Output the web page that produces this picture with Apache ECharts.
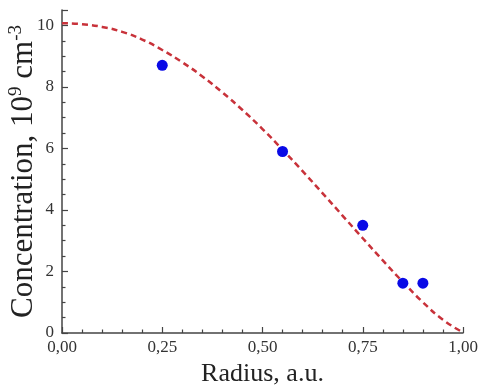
<!DOCTYPE html>
<html><head><meta charset="utf-8">
<script src="https://cdn.jsdelivr.net/npm/echarts@6/dist/echarts.min.js"></script>
<style>html,body{margin:0;padding:0;background:#fff}#c{width:481px;height:387px}</style>
</head><body><div id="c"></div>
<script>
// Measured points (blue dots)
const measuredRadius = [0.25, 0.55, 0.75, 0.85, 0.90];
const measuredConc = [8.7, 5.9, 3.5, 1.62, 1.62];
// Dashed model curve
const curveRadius = [0, 0.05, 0.10, 0.15, 0.20, 0.25, 0.30, 0.35, 0.40, 0.45, 0.50, 0.55, 0.60, 0.65, 0.70, 0.75, 0.80, 0.85, 0.90, 0.95, 1.00];
const curveConc = [10.07, 10.04, 9.95, 9.79, 9.54, 9.20, 8.80, 8.34, 7.82, 7.25, 6.63, 5.96, 5.26, 4.54, 3.81, 3.08, 2.36, 1.66, 1.00, 0.43, 0.02];
// Tick labels
const xTickValues = [0, 0.25, 0.5, 0.75, 1];
const xTickLabels = ['0,00', '0,25', '0,50', '0,75', '1,00'];
const yTickValues = [0, 2, 4, 6, 8, 10];
const yTickLabels = ['0', '2', '4', '6', '8', '10'];

const FONT = 'Liberation Serif';
const chart = echarts.init(document.getElementById('c'), null, {renderer: 'canvas'});
function lookup(vals, labels, v) {
  for (let i = 0; i < vals.length; i++) if (Math.abs(vals[i] - v) < 1e-6) return labels[i];
  return '';
}
chart.setOption({
  animation: false,
  backgroundColor: '#fff',
  grid: {left: 62, right: 18, top: 10, bottom: 54, containLabel: false, outerBoundsMode: 'none'},
  xAxis: {
    type: 'value', min: 0, max: 1, interval: 0.25,
    name: 'Radius, a.u.', nameLocation: 'middle', nameGap: 28, nameMoveOverlap: false,
    nameTextStyle: {fontFamily: FONT, fontSize: 26, color: '#222'},
    axisLine: {show: true, lineStyle: {color: '#444', width: 1.5}},
    axisTick: {show: true, inside: true, length: 6, lineStyle: {color: '#444', width: 1.2}},
    minorTick: {show: true, splitNumber: 5, length: 3.5, lineStyle: {color: '#444', width: 1.2}},
    splitLine: {show: false},
    axisLabel: {fontFamily: FONT, fontSize: 17, color: '#333', margin: 6,
      formatter: v => lookup(xTickValues, xTickLabels, v)}
  },
  yAxis: {
    type: 'value', min: 0, max: 10.5, interval: 2,
    name: '{t|Concentration, 10}{s|9}{t| cm}{s|-3}', nameLocation: 'middle', nameRotate: 90, nameGap: 21, nameMoveOverlap: false,
    nameTextStyle: {fontFamily: FONT, color: '#222',
      rich: {
        t: {fontFamily: FONT, fontSize: 31, lineHeight: 34, color: '#222'},
        s: {fontFamily: FONT, fontSize: 19, lineHeight: 19, verticalAlign: 'top', color: '#222'}
      }},
    axisLine: {show: true, lineStyle: {color: '#444', width: 1.5}},
    axisTick: {show: true, inside: true, length: 6, lineStyle: {color: '#444', width: 1.2}},
    minorTick: {show: true, splitNumber: 4, length: 3.5, lineStyle: {color: '#444', width: 1.2}},
    splitLine: {show: false},
    axisLabel: {fontFamily: FONT, fontSize: 17, color: '#333', margin: 8, showMaxLabel: true,
      formatter: v => lookup(yTickValues, yTickLabels, v)}
  },
  series: [
    {
      type: 'line', data: curveRadius.map((r, i) => [r, curveConc[i]]),
      smooth: 0.5, showSymbol: false, symbol: 'none',
      lineStyle: {color: '#c8323a', width: 2.5, type: [6, 4]}, z: 2
    },
    {
      type: 'scatter', data: measuredRadius.map((r, i) => [r, measuredConc[i]]),
      symbol: 'circle', symbolSize: 11,
      itemStyle: {color: '#0a0ae6', opacity: 1}, z: 3
    }
  ]
});
</script>
</body></html>
